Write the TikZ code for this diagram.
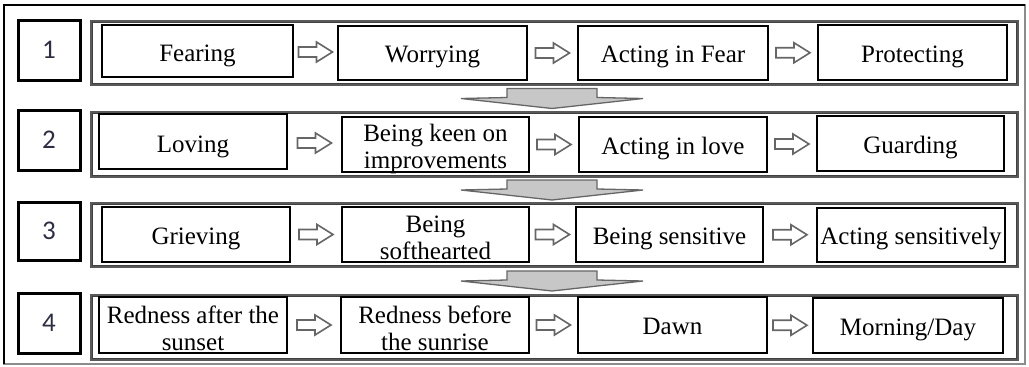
\documentclass[tikz,border=0pt]{standalone}
\usepackage{fontspec}
\setmainfont{Liberation Serif}
\newfontfamily\numfont{Carlito}
\usetikzlibrary{calc}
\definecolor{numcol}{RGB}{45,45,70}
\newcommand\tb[7]{%
  \node[tbox, minimum width=#4pt, minimum height=#5pt] (#1) at (#2,#3) {};
  \node[ttext] (#1t) at ($(#1.center)+(0,#6)$) {#7};}
\newcommand\harrow[2]{%
  \draw[harr, shift={($(#1.east)!.5!(#2.west)$)}] (-17,-5) -- (1,-5) -- (1,-10) -- (17,0) -- (1,10) -- (1,5) -- (-17,5) -- cycle;}
\newcommand\varrow[2]{%
  \draw[varr, shift={($(#1.south)!.5!(#2.north)$)}, xshift=-2.5pt] (-45,-10) -- (45,-10) -- (45,-1) -- (91,0) -- (0,10) -- (-91,0) -- (-45,-1) -- cycle;}
\begin{document}
\begin{tikzpicture}[x=1pt,y=-1pt,
  tbox/.style={draw=black, line width=1.8pt, fill=white, inner sep=0pt},
  ttext/.style={font=\fontsize{25}{27}\selectfont, align=center, anchor=base, inner sep=0pt},
  nbox/.style={draw=black, line width=3pt, inner sep=0pt, minimum width=62pt, minimum height=60pt, font=\numfont\fontsize{27}{29}\selectfont, text=numcol},
  cont/.style={draw=black!65, line width=2.8pt, inner sep=0pt, minimum width=927pt},
  cinner/.style={draw=black!75, line width=0.9pt},
  harr/.style={draw=black!60, line width=1.6pt, fill=white, line join=miter},
  varr/.style={draw=black!60, line width=1.3pt, fill=black!22, line join=miter}]
\useasboundingbox (0,0) rectangle (1029,367);
% outer frame
\draw[black!45, line width=1.2pt] (4,5) rectangle (1025,364);
\draw[line width=2.6pt] (4,364) -- (4,5) -- (1025,5);
% row containers
\node[cont, minimum height=64pt] (c1) at (554.5,53) {};
\node[cont, minimum height=65pt] (c2) at (554.5,144.5) {};
\node[cont, minimum height=64pt] (c3) at (554.5,235) {};
\node[cont, minimum height=65pt] (c4) at (554.5,327.5) {};
\foreach \c in {c1,c2,c3,c4}
  \draw[cinner] ([shift={(3.2,3.2)}]\c.north west) rectangle ([shift={(-3.2,-3.2)}]\c.south east);
% number boxes
\node[nbox] (n1) at (49,50) {1};
\node[nbox] (n2) at (49,140) {2};
\node[nbox, minimum height=58pt] (n3) at (49,231) {3};
\node[nbox] (n4) at (49,323) {4};
% row 1
\tb{r1a}{197.5}{51}{191}{52}{10}{Fearing}
\tb{r1b}{432.5}{53}{189}{54}{9.5}{Worrying}
\tb{r1c}{673}{53}{190}{54}{9.5}{Acting in Fear}
\tb{r1d}{912.5}{52.5}{189}{55}{9.5}{Protecting}
% row 2
\tb{r2a}{193}{141.5}{188}{55}{10.5}{Loving}
\tb{r2b}{435.5}{144.5}{187}{55}{24}{Being keen on\\improvements}
\tb{r2c}{673}{144.5}{188}{55}{9.5}{Acting in love}
\tb{r2d}{910.5}{143.5}{187}{55}{9.5}{Guarding}
% row 3
\tb{r3a}{196}{234.5}{188}{55}{9.5}{Grieving}
\tb{r3b}{435.5}{234.5}{187}{55}{25}{Being\\softhearted}
\tb{r3c}{669.5}{234.5}{187}{55}{9.5}{Being sensitive}
\tb{r3d}{911}{235}{188}{54}{9.5}{Acting sensitively}
% row 4
\tb{r4a}{193}{325}{188}{56}{25}{Redness after the\\sunset}
\tb{r4b}{435}{325}{188}{56}{25}{Redness before\\the sunrise}
\tb{r4c}{672.5}{325}{189}{56}{9.5}{Dawn}
\tb{r4d}{908}{325.5}{190}{55}{9.5}{Morning/Day}
% horizontal arrows
\harrow{r1a}{r1b}\harrow{r1b}{r1c}\harrow{r1c}{r1d}
\harrow{r2a}{r2b}\harrow{r2b}{r2c}\harrow{r2c}{r2d}
\harrow{r3a}{r3b}\harrow{r3b}{r3c}\harrow{r3c}{r3d}
\harrow{r4a}{r4b}\harrow{r4b}{r4c}\harrow{r4c}{r4d}
% vertical arrows
\varrow{c1}{c2}\varrow{c2}{c3}\varrow{c3}{c4}
\end{tikzpicture}
\end{document}
